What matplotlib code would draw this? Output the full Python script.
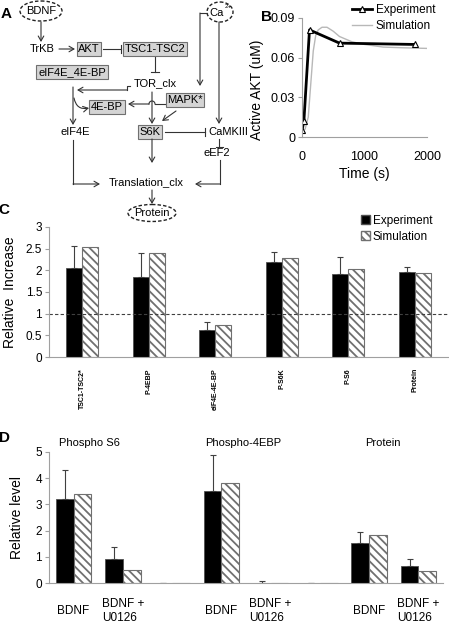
import matplotlib
matplotlib.use('Agg')
import matplotlib.pyplot as plt
import numpy as np
from matplotlib.patches import Ellipse, Patch
from matplotlib.lines import Line2D

plt.rcParams['font.family'] = ['Liberation Sans', 'DejaVu Sans']
plt.rcParams['hatch.linewidth'] = 1.3

# panel B: active AKT time course
exp_t = [0, 30, 120, 600, 1800]
exp_akt = [0.005, 0.012, 0.081, 0.071, 0.070]
sim_t = [0, 50, 100, 140, 180, 220, 260, 320, 400, 500, 600, 800, 1000, 1300, 1600, 2000]
sim_akt = [0.004, 0.006, 0.015, 0.040, 0.065, 0.077, 0.081, 0.083, 0.083, 0.080,
           0.076, 0.072, 0.070, 0.068, 0.0675, 0.067]

# panel C: relative increase
c_cats = ['TSC1-TSC2*', 'P-4EBP', 'eIF4E-4E-BP', 'P-S6K', 'P-S6', 'Protein']
c_exp = [2.05, 1.85, 0.62, 2.19, 1.91, 1.97]
c_err = [0.50, 0.54, 0.19, 0.24, 0.39, 0.10]
c_sim = [2.53, 2.39, 0.74, 2.29, 2.03, 1.95]

# panel D: relative level with/without U0126
d_cats = ['BDNF', 'BDNF +\nU0126', '', 'BDNF', 'BDNF +\nU0126', '', 'BDNF', 'BDNF +\nU0126']
d_exp = [3.22, 0.90, 0, 3.50, 0, 0, 1.53, 0.63]
d_err = [1.10, 0.47, 0, 1.38, 0.07, 0, 0.42, 0.29]
d_sim = [3.38, 0.50, 0, 3.82, 0, 0, 1.83, 0.45]
d_groups = ['Phospho S6', 'Phospho-4EBP', 'Protein']
d_group_x = [0.33, 3.44, 6.28]

W, H = 449, 624
fig = plt.figure(figsize=(W / 100, H / 100), dpi=100)

def fax(l, t, r, b):
    return fig.add_axes([l / W, 1 - b / H, (r - l) / W, (b - t) / H])

def style(ax):
    for s in ['top', 'right']:
        ax.spines[s].set_visible(False)
    for s in ['left', 'bottom']:
        ax.spines[s].set_color('#a0a0a0')
        ax.spines[s].set_linewidth(0.8)
    ax.tick_params(axis='y', length=3, color='#a0a0a0', width=0.8, pad=2)
    ax.tick_params(axis='x', length=0)

# ---------------- panel A (diagram) ----------------
a0 = fig.add_axes([0, 0, 1, 1])
a0.set_xlim(0, W)
a0.set_ylim(H, 0)
a0.axis('off')
lc = '#333333'

def line(pts):
    xs, ys = zip(*pts)
    a0.plot(xs, ys, color=lc, lw=0.8)

def arrow(pts, rad=0):
    if len(pts) > 2:
        line(pts[:-1])
    a0.annotate('', xy=pts[-1], xytext=pts[-2],
                arrowprops=dict(arrowstyle='->,head_length=0.35,head_width=0.2', color=lc, lw=0.8,
                                shrinkA=0, shrinkB=0, connectionstyle='arc3,rad=%s' % rad))

def tbar(pts, half=4):
    line(pts)
    (x0, y0), (x1, y1) = pts[-2], pts[-1]
    if x0 == x1:
        a0.plot([x1 - half, x1 + half], [y1, y1], color=lc, lw=0.8)
    else:
        a0.plot([x1, x1], [y1 - half, y1 + half], color=lc, lw=0.8)

def box(x, y, s):
    a0.text(x, y, s, ha='center', va='center', fontsize=8,
            bbox=dict(boxstyle='square,pad=0.15', fc='#d4d4d4', ec='#707070', lw=0.8))

def txt(x, y, s, ha='center'):
    a0.text(x, y, s, ha=ha, va='center', fontsize=8)

def ell(x, y, w, h):
    a0.add_patch(Ellipse((x, y), w, h, fill=False, ec='#222222', ls=(0, (2.5, 1.5)), lw=1))

ell(41, 11, 42, 20)
txt(41, 11, 'BDNF')
ell(220, 12, 26, 20)
txt(217, 13, 'Ca')
a0.text(225, 7, '2+', fontsize=4.5, ha='left', va='center')
ell(152, 213, 48, 17)
txt(152, 213, 'Protein')

txt(42, 49, 'TrKB')
box(89, 49, 'AKT')
box(155, 49, 'TSC1-TSC2')
box(72, 72, 'eIF4E_4E-BP')
txt(155, 83, 'TOR_clx')
box(107, 107, '4E-BP')
box(185, 100, 'MAPK*')
txt(75, 132, 'eIF4E')
box(150, 132, 'S6K')
txt(208, 132, 'CaMKIII', ha='left')
txt(217, 153, 'eEF2')
txt(146, 182, 'Translation_clx')

arrow([(41, 22), (41, 42)])
arrow([(59, 49), (75, 49)])
tbar([(103, 49), (121, 49)])
tbar([(155, 57), (155, 72)])
arrow([(130, 86), (127, 86), (127, 90), (77, 90)])
arrow([(73, 87), (73, 125)])
arrow([(74, 98), (89, 108)], rad=0.5)
line([(169, 104), (155, 104)])
t = np.linspace(0, np.pi, 20)
a0.plot(152 + 3 * np.cos(t), 104 - 3 * np.sin(t), color=lc, lw=0.8)
arrow([(149, 104), (128, 104)])
arrow([(152, 92), (152, 124)])
arrow([(176, 111), (162, 121)])
arrow([(207, 13), (200, 13), (200, 86)])
arrow([(219, 22), (219, 124)])
tbar([(165, 132), (205, 132)])
tbar([(219, 139), (219, 147)], half=3.5)
arrow([(220, 160), (220, 184), (195, 184)])
arrow([(73, 140), (73, 184), (100, 184)])
arrow([(152, 139), (152, 163)])
arrow([(152, 190), (152, 204)])

# panel letters
for s, x, y in [('A', 6, 14), ('B', 266, 17), ('C', 4, 210), ('D', 4, 438)]:
    fig.text(x / W, 1 - y / H, s, fontsize=11, fontweight='bold', ha='center', va='center')

# ---------------- panel B ----------------
axb = fax(302, 18, 427, 137)
style(axb)
axb.plot(sim_t, sim_akt, color='#b8b8b8', lw=1, label='Simulation')
axb.plot(exp_t, exp_akt, color='black', lw=2, marker='^', ms=5, mfc='white', mec='black',
         mew=0.8, label='Experiment')
axb.set_xlim(0, 2000)
axb.set_ylim(0, 0.09)
axb.set_xticks([0, 1000, 2000])
axb.set_yticks([0, 0.03, 0.06, 0.09])
axb.set_yticklabels(['0', '0.03', '0.06', '0.09'])
axb.tick_params(labelsize=9)
axb.tick_params(axis='x', pad=10)
axb.set_xlabel('Time (s)', fontsize=10, labelpad=3)
axb.set_ylabel('Active AKT (uM)', fontsize=10)
axb.yaxis.set_label_coords(-0.3, 0.4)
hb = [Line2D([], [], color='black', lw=2, marker='^', ms=5, mfc='white', mec='black', mew=0.8),
      Line2D([], [], color='#b8b8b8', lw=1)]
fig.legend(hb, ['Experiment', 'Simulation'], loc='upper left', bbox_to_anchor=(352 / W, 1 - 4 / H),
           frameon=False, fontsize=8.5, handlelength=1.7, handletextpad=0.3, borderpad=0,
           labelspacing=0.35, borderaxespad=0)

# ---------------- panel C ----------------
axc = fax(49, 227, 448, 357)
style(axc)
xc = np.arange(len(c_cats))
bw = 0.24
axc.bar(xc - bw / 2, c_exp, bw, color='black', ec='#505050', lw=0.6)
axc.bar(xc + bw / 2, c_sim, bw, color='white', ec='#707070', lw=0.8, hatch='\\\\\\\\')
axc.errorbar(xc - bw / 2, c_exp, yerr=[np.zeros(len(c_err)), c_err], fmt='none',
             ecolor='#404040', elinewidth=0.8, capsize=2.5, capthick=0.8)
axc.axhline(1, color='#404040', ls=(0, (3, 2)), lw=0.8)
axc.set_xlim(-0.5, len(c_cats) - 0.5)
axc.set_ylim(0, 3)
axc.set_yticks(np.arange(0, 3.01, 0.5))
axc.set_yticklabels(['0', '0.5', '1', '1.5', '2', '2.5', '3'])
axc.set_xticks(xc)
axc.set_xticklabels(c_cats, rotation=90, fontsize=5, fontweight='bold', va='top')
axc.tick_params(axis='x', pad=8)
axc.tick_params(axis='y', labelsize=8.5)
axc.set_ylabel('Relative  Increase', fontsize=10, labelpad=6)
hc = [Patch(fc='black', ec='#505050'), Patch(fc='white', ec='#707070', hatch='\\\\\\\\')]
fig.legend(hc, ['Experiment', 'Simulation'], loc='upper left', bbox_to_anchor=(361 / W, 1 - 215 / H),
           frameon=False, fontsize=8.5, handlelength=0.8, handleheight=0.8, handletextpad=0.2,
           borderpad=0, labelspacing=0.3, borderaxespad=0)

# ---------------- panel D ----------------
axd = fax(49, 452, 443, 583)
style(axd)
xd = np.arange(len(d_cats))
bw = 0.36
axd.bar(xd - bw / 2, d_exp, bw, color='black', ec='#505050', lw=0.6)
axd.bar(xd + bw / 2, d_sim, bw, color='white', ec='#707070', lw=0.8, hatch='\\\\\\\\')
axd.errorbar(xd - bw / 2, d_exp, yerr=[np.zeros(len(d_err)), d_err], fmt='none',
             ecolor='#404040', elinewidth=0.8, capsize=2.5, capthick=0.8)
axd.set_xlim(-0.5, len(d_cats) - 0.5)
axd.set_ylim(0, 5)
axd.set_yticks(range(6))
axd.set_xticks(xd)
axd.set_xticklabels(d_cats, fontsize=8.5, va='center', multialignment='left')
axd.tick_params(axis='x', pad=20)
axd.tick_params(axis='y', labelsize=8.5)
axd.set_ylabel('Relative level', fontsize=10, labelpad=8)
for g, gx in zip(d_groups, d_group_x):
    axd.text(gx, 1.07, g, transform=axd.get_xaxis_transform(), ha='center', va='center', fontsize=8)

fig.savefig('out.png', dpi=100)
